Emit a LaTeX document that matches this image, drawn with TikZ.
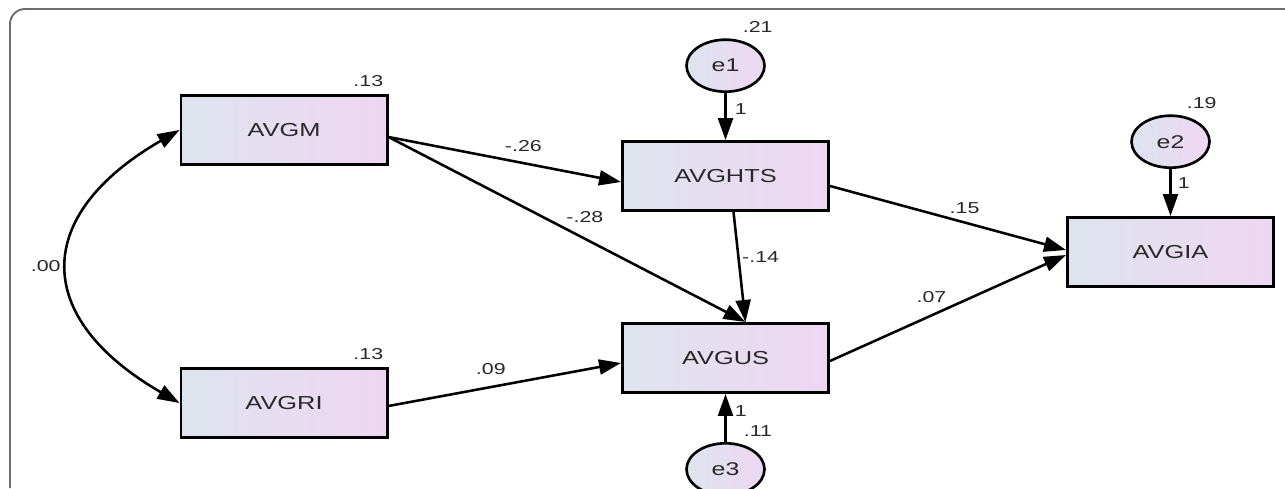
\documentclass[tikz,border=0pt]{standalone}
\usepackage{fontspec}
\newfontfamily\amosfont[FakeStretch=1.35]{Liberation Sans}
\usetikzlibrary{positioning,shapes.geometric,arrows.meta}
\definecolor{boxleft}{RGB}{222,228,238}
\definecolor{boxright}{RGB}{238,214,242}
\definecolor{framegray}{RGB}{110,110,110}
\definecolor{inkgray}{RGB}{40,40,40}
\tikzset{
	obs/.style={draw,line width=1.7pt,left color=boxleft,right color=boxright,
		minimum width=4.12cm,minimum height=1.38cm,inner sep=0pt,text=inkgray,
		font=\amosfont\fontsize{10.7}{12}\selectfont},
	err/.style={ellipse,draw,line width=1.5pt,left color=boxleft,right color=boxright,
		minimum width=1.56cm,minimum height=1.04cm,inner sep=0pt,text=inkgray,
		font=\amosfont\fontsize{10.5}{12}\selectfont},
	num/.style={inner sep=0pt,text=inkgray,font=\amosfont\fontsize{9}{10}\selectfont},
	reg/.style={line width=1.45pt,-{Triangle[length=0.44cm,width=0.3cm]}},
	cov/.style={line width=1.45pt,{Triangle[length=0.44cm,width=0.3cm]}-{Triangle[length=0.44cm,width=0.3cm]}}
}
\begin{document}
\begin{tikzpicture}
\useasboundingbox (0,0) rectangle (25.7,-9.76);
% frame
\draw[framegray,line width=1.1pt] (0.2,-9.76) -- (0.2,-0.48) arc[start angle=180,end angle=90,radius=0.3cm] -- (25.7,-0.18);

% observed variables
\node[obs] (AVGM) at (5.68,-2.60) {AVGM};
\node[obs,below=4.02cm of AVGM] (AVGRI) {AVGRI};
\node[obs] (AVGHTS) at (14.51,-3.52) {AVGHTS};
\node[obs,below=2.2cm of AVGHTS] (AVGUS) {AVGUS};
\node[obs] (AVGIA) at (23.41,-5.04) {AVGIA};

% errors
\node[err,above=0.94cm of AVGHTS] (e1) {e1};
\node[err,above=0.94cm of AVGIA] (e2) {e2};
\node[err,below=0.96cm of AVGUS] (e3) {e3};

% variances
\node[num,above left=0.14cm and 0.1cm of AVGM.north east,anchor=south east] (vAVGM) {.13};
\node[num,above left=0.14cm and 0.1cm of AVGRI.north east,anchor=south east] (vAVGRI) {.13};
\node[num,above right=0.12cm and 0.34cm of e1.north,anchor=south west] (ve1) {.21};
\node[num,above right=0.1cm and 0.32cm of e2.north,anchor=south west] (ve2) {.19};
\node[num,above right=0.1cm and 0.36cm of e3.north,anchor=south west] (ve3) {.11};

% paths
\draw[cov] (AVGM.west) to[out=210,in=150,looseness=1.6] node[num,pos=0.5,left=0.14cm] (c00) {.00} (AVGRI.west);
\draw[reg] ([yshift=-0.14cm]AVGM.east) -- node[num,pos=0.58,above=0.2cm] (p26) {-.26} ([yshift=-0.12cm]AVGHTS.west);
\draw[reg] ([yshift=-0.14cm]AVGM.east) -- node[num,pos=0.55,above=0.3cm] (p28) {-.28} ([xshift=0.4cm]AVGUS.north);
\draw[reg] ([xshift=0.16cm]AVGHTS.south) -- node[num,pos=0.41,right=0.05cm] (p14) {-.14} ([xshift=0.4cm]AVGUS.north);
\draw[reg] ([yshift=-0.06cm]AVGRI.east) -- node[num,pos=0.44,above=0.22cm] (p09) {.09} ([yshift=-0.1cm]AVGUS.west);
\draw[reg] ([yshift=-0.2cm]AVGHTS.east) -- node[num,pos=0.57,above=0.16cm] (p15) {.15} ([yshift=0.04cm]AVGIA.west);
\draw[reg] ([yshift=-0.06cm]AVGUS.east) -- node[num,pos=0.43,above=0.22cm] (p07) {.07} ([yshift=-0.06cm]AVGIA.west);

% error loadings
\draw[reg] (e1) -- node[num,pos=0.34,right=0.16cm] (l1) {1} (AVGHTS);
\draw[reg] (e2) -- node[num,pos=0.29,right=0.12cm] (l2) {1} (AVGIA);
\draw[reg] (e3) -- node[num,pos=0.64,right=0.16cm] (l3) {1} (AVGUS);
\end{tikzpicture}
\end{document}
